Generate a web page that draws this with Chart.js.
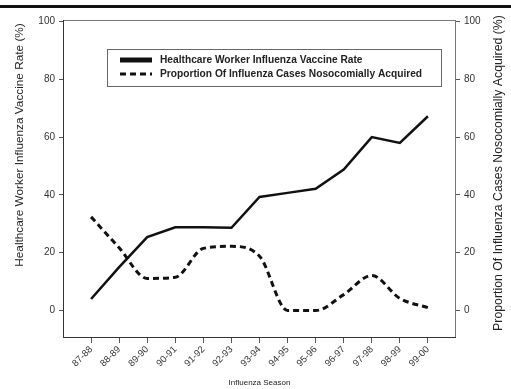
<!DOCTYPE html>
<html>
<head>
<meta charset="utf-8">
<script src="https://cdn.jsdelivr.net/npm/chart.js@4"></script>
<style>
  html, body { margin: 0; padding: 0; background: #fff; }
  #wrap { width: 511px; height: 389px; position: relative; }
</style>
</head>
<body>
<div id="wrap"><canvas id="c" width="511" height="389"></canvas></div>
<script>
// Influenza seasons on the x axis
const seasons = ['87-88','88-89','89-90','90-91','91-92','92-93','93-94','94-95','95-96','96-97','97-98','98-99','99-00'];
// Healthcare worker influenza vaccination rate (%)
const vaccineRate = [4, 15, 25.4, 28.8, 28.8, 28.6, 39.3, 40.7, 42.1, 48.8, 60, 58, 67.2];
// Proportion of influenza cases acquired in hospital (%)
const nosocomialShare = [32.4, 21.7, 11.1, 11.5, 21.5, 22.2, 18.8, 0, 0, 5.5, 12.1, 4.2, 1];
// Percentage ticks shared by both y axes
const percentTicks = [0, 20, 40, 60, 80, 100];
// Axis titles
const leftTitle = 'Healthcare Worker Influenza Vaccine Rate (%)';
const rightTitle = 'Proportion Of Influenza Cases Nosocomially Acquired (%)';

const FONT = 'Liberation Sans, Arial, sans-serif';

function verticalText(ctx, text, x, y, size) {
  ctx.save();
  ctx.translate(x, y);
  ctx.rotate(-Math.PI / 2);
  ctx.font = size + 'px ' + FONT;
  ctx.fillStyle = '#222';
  ctx.textAlign = 'center';
  ctx.textBaseline = 'middle';
  ctx.fillText(text, 0, 0);
  ctx.restore();
}

const framePlugin = {
  id: 'frame',
  beforeDraw(chart) {
    const ctx = chart.ctx;
    ctx.save();
    // heavy rule across the top of the figure
    ctx.fillStyle = '#111';
    ctx.fillRect(0, 5, chart.width, 3);
    ctx.restore();
    verticalText(ctx, leftTitle, 20, 145, 11.8);
    verticalText(ctx, rightTitle, 499, 173, 12.3);
  },
  afterDatasetsDraw(chart) {
    const ctx = chart.ctx;
    const a = chart.chartArea;
    ctx.save();
    ctx.strokeStyle = '#777';
    ctx.lineWidth = 1;
    ctx.strokeRect(a.left + 0.5, a.top + 0.5, a.right - a.left - 1, a.bottom - a.top - 1);
    ctx.strokeStyle = '#333';
    ctx.beginPath();
    ctx.moveTo(a.left + 0.5, a.top);
    ctx.lineTo(a.left + 0.5, a.bottom - 0.5);
    ctx.lineTo(a.right, a.bottom - 0.5);
    ctx.stroke();

    // boxed legend inside the plot
    const bx = 107, by = 49, bw = 334, bh = 37;
    ctx.fillStyle = '#fff';
    ctx.fillRect(bx, by, bw, bh);
    ctx.strokeStyle = '#666';
    ctx.strokeRect(bx + 0.5, by + 0.5, bw, bh);
    chart.data.datasets.forEach((ds, i) => {
      const y = by + 11 + i * 14;
      ctx.strokeStyle = ds.borderColor;
      ctx.lineWidth = i === 0 ? 5 : 3;
      ctx.setLineDash(ds.borderDash || []);
      ctx.beginPath();
      ctx.moveTo(bx + 13, y);
      ctx.lineTo(bx + 45, y);
      ctx.stroke();
      ctx.setLineDash([]);
      ctx.fillStyle = '#222';
      ctx.font = 'bold 10.2px ' + FONT;
      ctx.textBaseline = 'middle';
      ctx.fillText(ds.label, bx + 53, y);
    });
    ctx.restore();
  }
};

const yScale = (position) => ({
  type: 'linear',
  position,
  min: -9.5,
  max: 100.5,
  afterBuildTicks: s => { s.ticks = percentTicks.map(v => ({ value: v })); },
  afterFit: s => { s.width = position === 'left' ? 63 : 55; },
  grid: { drawOnChartArea: false, drawTicks: true, tickLength: 4, color: '#555' },
  border: { display: false },
  ticks: { color: '#333', font: { family: FONT, size: 10 }, padding: 4 }
});

new Chart(document.getElementById('c'), {
  type: 'line',
  data: {
    datasets: [
      {
        label: 'Healthcare Worker Influenza Vaccine Rate',
        data: vaccineRate.map((v, i) => ({ x: i, y: v })),
        borderColor: '#111',
        borderWidth: 2.5,
        pointRadius: 0,
        tension: 0,
        yAxisID: 'y'
      },
      {
        label: 'Proportion Of Influenza Cases Nosocomially Acquired',
        data: nosocomialShare.map((v, i) => ({ x: i, y: v })),
        borderColor: '#111',
        borderWidth: 3,
        borderDash: [6, 4],
        pointRadius: 0,
        cubicInterpolationMode: 'monotone',
        yAxisID: 'y1'
      }
    ]
  },
  options: {
    responsive: false,
    animation: false,
    layout: { padding: { top: 20, left: 0, right: 0, bottom: 0 } },
    plugins: { legend: { display: false }, tooltip: { enabled: false } },
    scales: {
      x: {
        type: 'linear',
        min: -1,
        max: 13,
        afterBuildTicks: s => { s.ticks = seasons.map((_, i) => ({ value: i })); },
        afterFit: s => { s.height = 51; },
        grid: { drawOnChartArea: false, drawTicks: true, tickLength: 5, color: '#555' },
        border: { display: false },
        ticks: {
          color: '#333',
          font: { family: FONT, size: 9.5 },
          minRotation: 45,
          maxRotation: 45,
          padding: 1,
          callback: v => seasons[v]
        },
        title: { display: true, text: 'Influenza Season', color: '#222', font: { family: FONT, size: 8 }, padding: { top: 0, bottom: 1 } }
      },
      y: yScale('left'),
      y1: yScale('right')
    }
  },
  plugins: [framePlugin]
});
</script>
</body>
</html>
